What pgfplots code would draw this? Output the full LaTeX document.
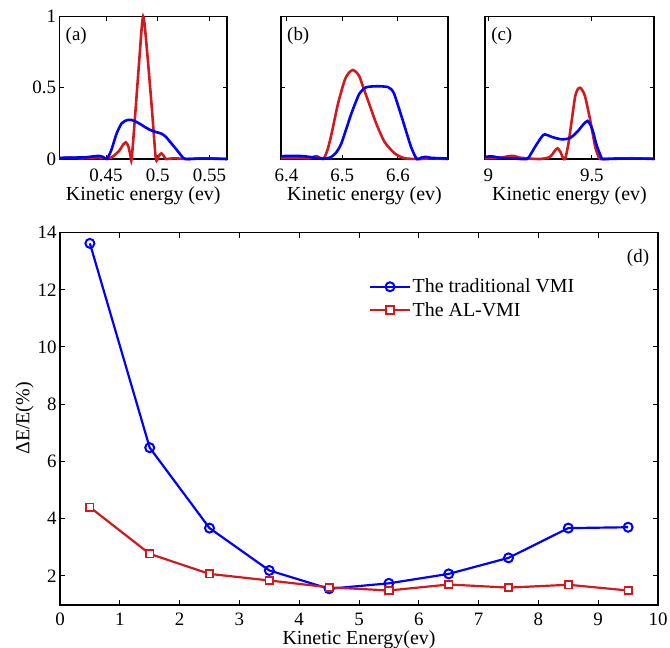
\documentclass[border=0pt]{standalone}
\usepackage{fontspec}
\setmainfont{Liberation Serif}
\usepackage{pgfplots}
\pgfplotsset{compat=1.18}
\definecolor{cblue}{RGB}{0,0,255}
\definecolor{cred}{RGB}{210,25,30}

\tikzset{plab/.style={font=\fontsize{19}{21}\selectfont, anchor=north west, inner sep=1bp}}

\pgfplotsset{
  base/.style={
    scale only axis,
    axis line style={line width=2pt},
    every tick/.style={black, line width=1pt},
    tick align=inside,
    major tick length=4bp,
    ticklabel style={font=\fontsize{19}{21}\selectfont},
    label style={font=\fontsize{20}{22}\selectfont},
    /pgf/number format/assume math mode=true,
  },
  panel/.style={
    base,
    width=167.5bp, height=142.5bp,
    ymin=0, ymax=1, ytick={0,0.5,1},
    xlabel={Kinetic energy (ev)},
    xticklabel style={anchor=base, yshift=-22.7bp},
    xlabel style={anchor=base, at={(axis description cs:0.5,0)}, yshift=-41bp},
    clip=false,
    every axis plot/.append style={line width=2.6pt, no marks, smooth, tension=0.4},
  },
}

\begin{document}
\begin{tikzpicture}
\useasboundingbox (0,0) rectangle (670bp,-648bp);

% (a)
\begin{axis}[panel, at={(59.5bp,-159bp)}, anchor=south west,
  xmin=0.405, xmax=0.567, xtick={0.45,0.5,0.55}]
\addplot[cred] coordinates {
  (0.405,0.005) (0.415,0.01) (0.425,0.005) (0.435,0.008) (0.442,0.012) (0.449,0.005)
  (0.455,0.01) (0.4587,0.03) (0.463,0.06) (0.4665,0.10) (0.4692,0.117) (0.4715,0.09)
  (0.4735,0.03) (0.4748,0.0) (0.4785,0.34) (0.482,0.68) (0.4845,0.92) (0.4859,1.0)
  (0.4875,0.93) (0.4905,0.69) (0.4945,0.34) (0.4982,0.0) (0.501,0.02) (0.5035,0.04)
  (0.506,0.02) (0.508,0.0) (0.515,0.005) (0.53,0.0) (0.545,0.005) (0.567,0.0)
};
\addplot[cblue] coordinates {
  (0.405,0.008) (0.42,0.01) (0.43,0.012) (0.4426,0.022) (0.447,0.015) (0.4507,0.0)
  (0.455,0.06) (0.4603,0.18) (0.4651,0.25) (0.470,0.272) (0.474,0.275) (0.479,0.262)
  (0.4843,0.24) (0.489,0.218) (0.4939,0.20) (0.499,0.188) (0.5036,0.178) (0.508,0.155)
  (0.5115,0.124) (0.5155,0.09) (0.5195,0.054) (0.523,0.022) (0.5266,0.0) (0.54,0.003)
  (0.555,0.002) (0.567,0.0)
};
\node[plab] at (rel axis cs:0.03,0.93) {(a)};
\end{axis}

% (b)
\begin{axis}[panel, at={(281bp,-159bp)}, anchor=south west, width=167bp,
  xmin=6.39, xmax=6.69, xtick={6.4,6.5,6.6}, yticklabels={}]
\addplot[cred] coordinates {
  (6.39,0.005) (6.42,0.01) (6.44,0.005) (6.454,0.02) (6.466,0.0) (6.474,0.07)
  (6.481,0.18) (6.4925,0.39) (6.5045,0.554) (6.512,0.605) (6.519,0.625) (6.525,0.61)
  (6.531,0.578) (6.538,0.50) (6.546,0.414) (6.561,0.25) (6.576,0.12) (6.594,0.04)
  (6.612,0.005) (6.64,0.0) (6.66,0.005) (6.69,0.0)
};
\addplot[cblue] coordinates {
  (6.39,0.02) (6.41,0.022) (6.43,0.02) (6.45,0.01) (6.465,0.003) (6.478,0.01)
  (6.488,0.04) (6.4985,0.11) (6.5165,0.32) (6.531,0.46) (6.543,0.503) (6.558,0.51)
  (6.57,0.51) (6.582,0.505) (6.588,0.49) (6.594,0.45) (6.6085,0.274) (6.6235,0.086)
  (6.634,0.0) (6.642,0.01) (6.65,0.015) (6.66,0.008) (6.69,0.003)
};
\node[plab] at (rel axis cs:0.03,0.93) {(b)};
\end{axis}

% (c)
\begin{axis}[panel, at={(485bp,-159bp)}, anchor=south west, width=169bp,
  xmin=8.984, xmax=9.8, xtick={9,9.5}, yticklabels={}]
\addplot[cred] coordinates {
  (8.984,0.005) (9.05,0.008) (9.1,0.02) (9.121,0.022) (9.15,0.01) (9.2,0.003)
  (9.25,0.0) (9.29,0.01) (9.3066,0.028) (9.322,0.06) (9.334,0.075) (9.348,0.05)
  (9.36,0.01) (9.371,0.0) (9.387,0.11) (9.403,0.274) (9.419,0.437) (9.432,0.49)
  (9.4434,0.50) (9.455,0.48) (9.4676,0.437) (9.4918,0.274) (9.516,0.086) (9.530,0.025)
  (9.540,0.0) (9.6,0.003) (9.7,0.005) (9.8,0.0)
};
\addplot[cblue] coordinates {
  (8.984,0.015) (9.02,0.018) (9.06,0.008) (9.12,0.004) (9.186,0.0) (9.205,0.035)
  (9.226,0.086) (9.25,0.14) (9.265,0.168) (9.274,0.173) (9.29,0.165) (9.3066,0.155)
  (9.33,0.145) (9.355,0.138) (9.375,0.14) (9.395,0.148) (9.415,0.17) (9.435,0.2)
  (9.46,0.245) (9.479,0.267) (9.495,0.235) (9.508,0.18) (9.52,0.11) (9.532,0.06)
  (9.545,0.015) (9.553,0.0) (9.65,0.003) (9.8,0.002)
};
\node[plab] at (rel axis cs:0.03,0.93) {(c)};
\end{axis}

% (d)
\begin{axis}[base, at={(60bp,-604.5bp)}, anchor=south west,
  width=598bp, height=372bp,
  xmin=0, xmax=10, ymin=1, ymax=14,
  xtick={0,1,...,10}, ytick={2,4,...,14},
  major tick length=5bp,
  xlabel={Kinetic Energy(ev)}, ylabel={ΔE/E(\%)},
  xticklabel style={anchor=base, yshift=-20.8bp},
  xlabel style={anchor=base, at={(axis description cs:0.5,0)}, yshift=-39.5bp},
  ylabel style={yshift=-3bp},
  legend style={at={(rel axis cs:0.512,0.886)}, anchor=north west, draw=none, fill=none,
    font=\fontsize{20}{22}\selectfont, row sep=4bp},
  legend cell align=left,
  legend image code/.code={\draw[mark repeat=2,mark phase=2] plot coordinates {(0cm,0cm) (0.69cm,0cm) (1.38cm,0cm)};},
]
\addplot[cblue, line width=2.2pt, mark=o, mark size=4.5bp, mark options={fill=white, line width=2pt}] coordinates {
  (0.5,13.62) (1.5,6.48) (2.5,3.67) (3.5,2.19) (4.5,1.55)
  (5.5,1.74) (6.5,2.07) (7.5,2.63) (8.5,3.67) (9.5,3.70)
};
\addplot[cred, line width=2.2pt, mark=square*, mark size=3.7bp, mark options={fill=white, line width=1.8pt}] coordinates {
  (0.5,4.40) (1.5,2.77) (2.5,2.07) (3.5,1.84) (4.5,1.60)
  (5.5,1.49) (6.5,1.70) (7.5,1.59) (8.5,1.69) (9.5,1.49)
};
\legend{The traditional VMI, The AL-VMI}
\node[font=\fontsize{19}{21}\selectfont] at (rel axis cs:0.9666,0.9306) {(d)};
\end{axis}
\end{tikzpicture}
\end{document}
